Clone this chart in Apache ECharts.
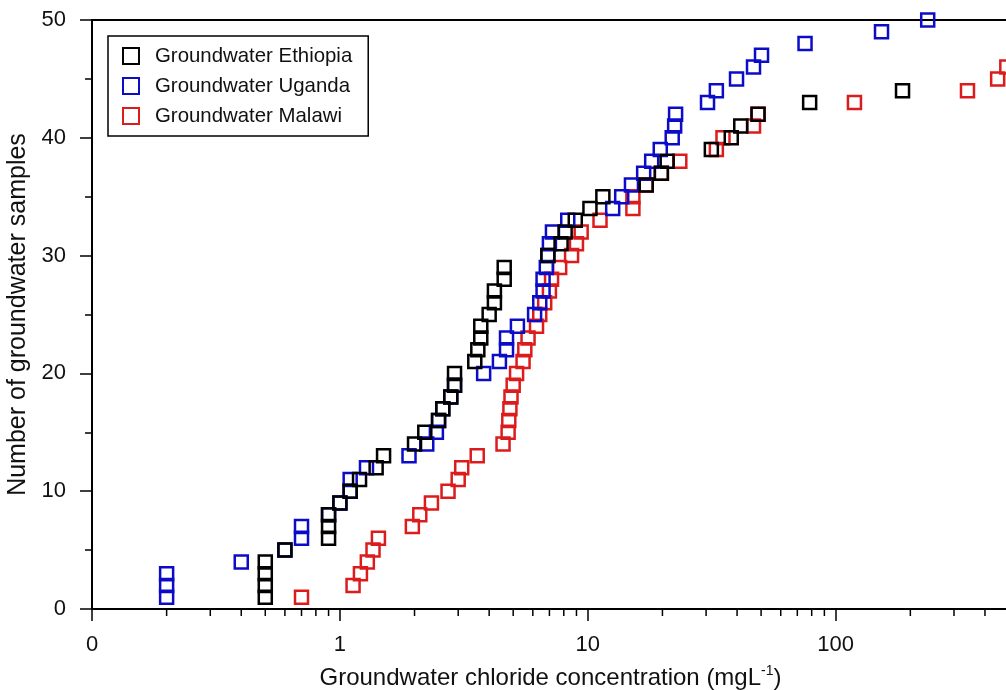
<!DOCTYPE html>
<html>
<head>
<meta charset="utf-8">
<script src="https://cdn.jsdelivr.net/npm/echarts@6/dist/echarts.min.js"></script>
<style>
  html, body { margin: 0; padding: 0; background: #ffffff; }
  #chart { width: 1006px; height: 690px; }
</style>
</head>
<body>
<div id="chart"></div>
<script>
// Chloride concentration (mg/L) of each sample, sorted, with its cumulative sample count
const ethiopiaCl = [0.5, 0.5, 0.5, 0.5, 0.6, 0.9, 0.9, 0.9, 1.0, 1.1,
                    1.2, 1.4, 1.5, 2.0, 2.2, 2.5, 2.6, 2.8, 2.9, 2.9,
                    3.5, 3.6, 3.7, 3.7, 4.0, 4.2, 4.2, 4.6, 4.6, 6.9,
                    7.8, 8.1, 8.9, 10.2, 11.5, 17.2, 19.8, 20.9, 31.5, 37.9,
                    41.4, 48.6, 78.5, 186];
const ethiopiaN  = [1, 2, 3, 4, 5, 6, 7, 8, 9, 10,
                    11, 12, 13, 14, 15, 16, 17, 18, 19, 20,
                    21, 22, 23, 24, 25, 26, 27, 28, 29, 30,
                    31, 32, 33, 34, 35, 36, 37, 38, 39, 40,
                    41, 42, 43, 44];

const ugandaCl = [0.2, 0.2, 0.2, 0.4, 0.6, 0.7, 0.7, 0.9, 1.0, 1.1,
                  1.1, 1.28, 1.9, 2.24, 2.45, 2.5, 2.6, 2.8, 2.9, 3.8,
                  4.4, 4.7, 4.7, 5.2, 6.1, 6.4, 6.6, 6.6, 6.8, 6.9,
                  7.0, 7.2, 8.3, 12.6, 13.7, 15.0, 16.8, 18.1, 19.6, 21.9,
                  22.4, 22.6, 30.4, 33.0, 39.8, 46.6, 50.2, 75.2, 153, 235];
const ugandaN  = [1, 2, 3, 4, 5, 6, 7, 8, 9, 10,
                  11, 12, 13, 14, 15, 16, 17, 18, 19, 20,
                  21, 22, 23, 24, 25, 26, 27, 28, 29, 30,
                  31, 32, 33, 34, 35, 36, 37, 38, 39, 40,
                  41, 42, 43, 44, 45, 46, 47, 48, 49, 50];

const malawiCl = [0.7, 1.13, 1.21, 1.29, 1.36, 1.43, 1.96, 2.1, 2.34, 2.73,
                  3.0, 3.1, 3.58, 4.55, 4.77, 4.8, 4.85, 4.9, 5.0, 5.16,
                  5.48, 5.57, 5.74, 6.21, 6.4, 6.7, 7.0, 7.14, 7.7, 8.6,
                  9.0, 9.4, 11.2, 15.2, 15.2, 17.2, 19.8, 23.5, 33.0, 35.1,
                  46.6, 48.6, 119, 340, 450, 490];
const malawiN  = [1, 2, 3, 4, 5, 6, 7, 8, 9, 10,
                  11, 12, 13, 14, 15, 16, 17, 18, 19, 20,
                  21, 22, 23, 24, 25, 26, 27, 28, 29, 30,
                  31, 32, 33, 34, 35, 36, 37, 38, 39, 40,
                  41, 42, 43, 44, 45, 46];

// Intermediate (2..9 x decade) tick positions on the logarithmic axis
const minorTickValues = [0.2, 0.3, 0.4, 0.5, 0.6, 0.7, 0.8, 0.9,
                         2, 3, 4, 5, 6, 7, 8, 9,
                         20, 30, 40, 50, 60, 70, 80, 90,
                         200, 300, 400];

const seriesNames = ['Groundwater Ethiopia', 'Groundwater Uganda', 'Groundwater Malawi'];

const FONT = '"Liberation Sans", Arial, Helvetica, sans-serif';
const TEXT = '#111111';
const BLACK = '#000000';
const BLUE = '#0c0cc8';
const RED = '#dc1c1c';

function pairs(values, counts) {
  return values.map(function (v, i) { return [v, counts[i]]; });
}

function sampleSeries(name, values, counts, color) {
  return {
    type: 'scatter',
    name: name,
    data: pairs(values, counts),
    symbol: 'rect',
    symbolSize: 13,
    silent: true,
    itemStyle: { color: 'rgba(255,255,255,0)', borderColor: color, borderWidth: 2.5, opacity: 1 },
    emphasis: { disabled: true }
  };
}

const chart = echarts.init(document.getElementById('chart'), null, { renderer: 'canvas' });

const option = {
  animation: false,
  backgroundColor: '#ffffff',
  grid: {
    left: 92, top: 20, width: 917, height: 589,
    outerBoundsMode: 'none',
    containLabel: false,
    show: true, borderColor: BLACK, borderWidth: 2, backgroundColor: 'rgba(0,0,0,0)'
  },
  legend: {
    data: seriesNames,
    orient: 'vertical',
    left: 108, top: 36,
    backgroundColor: '#ffffff',
    borderColor: BLACK, borderWidth: 1.5, borderRadius: 0,
    padding: [10, 16, 10, 14],
    itemWidth: 16, itemHeight: 16, itemGap: 10,
    selectedMode: false,
    textStyle: { fontFamily: FONT, fontSize: 20.4, color: TEXT, padding: [0, 0, 0, 11] }
  },
  xAxis: {
    type: 'log',
    logBase: 10,
    min: 0.1,
    max: 500,
    name: '{t|Groundwater chloride concentration (mgL}{s|-1}{t|)}',
    nameLocation: 'middle',
    nameGap: 55,
    nameTextStyle: {
      rich: {
        t: { fontFamily: FONT, fontSize: 24, color: TEXT, lineHeight: 28 },
        s: { fontFamily: FONT, fontSize: 14, color: TEXT, verticalAlign: 'top', lineHeight: 28 }
      }
    },
    axisLine: { onZero: false, lineStyle: { color: BLACK, width: 2 } },
    axisTick: { show: true, inside: false, length: 12, lineStyle: { color: BLACK, width: 1.5 } },
    minorTick: { show: false },
    splitLine: { show: false },
    axisLabel: {
      fontFamily: FONT, fontSize: 22, color: TEXT, margin: 25,
      showMaxLabel: false,
      formatter: function (v) {
        if (v < 0.5) return '0';
        if (v > 300) return '';
        return String(Math.round(v));
      }
    }
  },
  yAxis: {
    type: 'value',
    min: 0, max: 50, interval: 10,
    name: 'Number of groundwater samples',
    nameLocation: 'middle',
    nameGap: 53,
    nameRotate: 90,
    nameTextStyle: { fontFamily: FONT, fontSize: 25, color: TEXT },
    axisLine: { show: true, lineStyle: { color: BLACK, width: 2 } },
    axisTick: { show: true, inside: false, length: 12, lineStyle: { color: BLACK, width: 1.5 } },
    minorTick: { show: true, splitNumber: 2, length: 7, lineStyle: { color: BLACK, width: 1.5 } },
    splitLine: { show: false },
    minorSplitLine: { show: false },
    axisLabel: { fontFamily: FONT, fontSize: 22, color: TEXT, margin: 26 }
  },
  series: [
    sampleSeries('Groundwater Malawi', malawiCl, malawiN, RED),
    sampleSeries('Groundwater Uganda', ugandaCl, ugandaN, BLUE),
    sampleSeries('Groundwater Ethiopia', ethiopiaCl, ethiopiaN, BLACK),
    {
      // short intermediate ticks below the x axis line
      type: 'custom',
      name: 'minor ticks',
      silent: true,
      clip: false,
      z: 5,
      data: minorTickValues.map(function (v) { return [v, 0]; }),
      renderItem: function (params, api) {
        const p = api.coord([api.value(0), api.value(1)]);
        return {
          type: 'line',
          shape: { x1: p[0], y1: p[1], x2: p[0], y2: p[1] + 7 },
          style: { stroke: BLACK, lineWidth: 1.5 }
        };
      }
    }
  ]
};

chart.setOption(option);
</script>
</body>
</html>
